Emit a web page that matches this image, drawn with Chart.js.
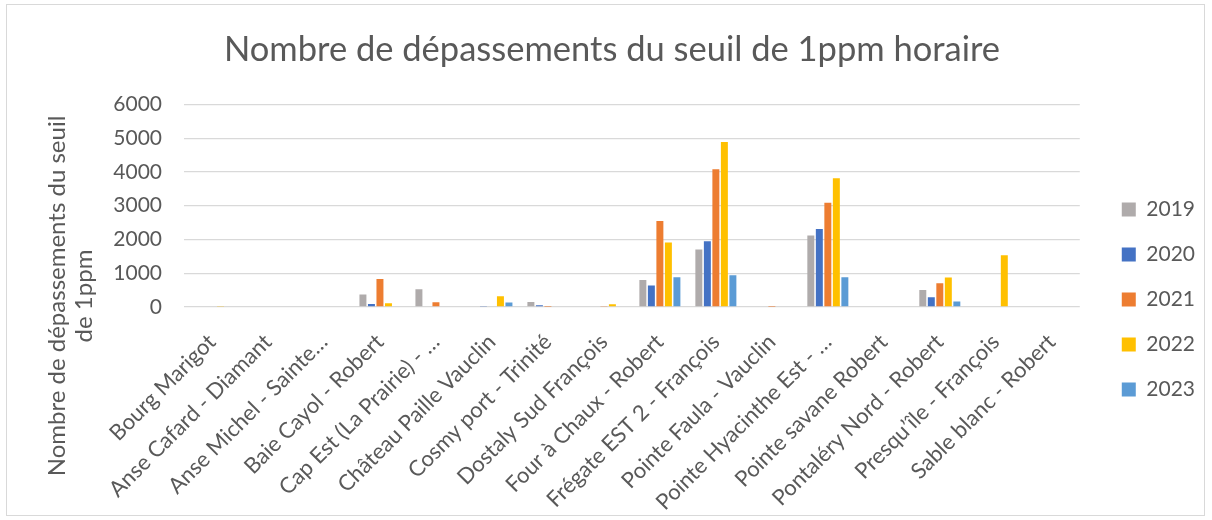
<!DOCTYPE html>
<html>
<head>
<meta charset="utf-8">
<script src="https://cdn.jsdelivr.net/npm/chart.js@4"></script>
<style>
  html, body { margin: 0; padding: 0; background: #fff; }
  #wrap { position: relative; width: 1212px; height: 520px; }
  #cadre { position: absolute; left: 6px; top: 4px; width: 1197px; height: 510px;
           border: 1px solid #d9d9d9; pointer-events: none; }
</style>
</head>
<body>
<div id="wrap">
  <canvas id="graphe" width="1212" height="520"></canvas>
  <div id="cadre"></div>
</div>
<script>
// ---------- Données ----------
var STATIONS = [
  "Bourg Marigot", "Anse Cafard - Diamant", "Anse Michel - Sainte…", "Baie Cayol - Robert",
  "Cap Est (La Prairie) - …", "Château Paille Vauclin", "Cosmy port - Trinité", "Dostaly Sud François",
  "Four à Chaux - Robert", "Frégate EST 2 - François", "Pointe Faula - Vauclin", "Pointe Hyacinthe Est - …",
  "Pointe savane Robert", "Pontaléry Nord - Robert", "Presqu’île - François", "Sable blanc - Robert"
];
var ANNEES = ["2019", "2020", "2021", "2022", "2023"];
var V2019 = [0, 0, 0, 370, 525, 0, 150, 0, 800, 1705, 0, 2120, 0, 500, 0, 0];
var V2020 = [0, 0, 0, 90, 0, 15, 50, 0, 640, 1950, 0, 2310, 0, 290, 0, 0];
var V2021 = [0, 0, 0, 830, 140, 0, 10, 15, 2550, 4080, 10, 3090, 0, 700, 0, 0];
var V2022 = [15, 0, 0, 110, 0, 320, 0, 80, 1910, 4890, 0, 3810, 0, 870, 1530, 0];
var V2023 = [0, 0, 0, 0, 0, 130, 0, 0, 880, 940, 0, 880, 0, 160, 0, 0];
var COULEURS = ["#afabab", "#4472c4", "#ed7d31", "#ffc000", "#5b9bd5"];
var TITRE = "Nombre de dépassements du seuil de 1ppm horaire";
var TITRE_Y = ["Nombre de dépassements du seuil", "de 1ppm"];

var GRIS = "#595959";
var POLICE = "Lato, 'Open Sans', sans-serif";

var series = [V2019, V2020, V2021, V2022, V2023];
var datasets = series.map(function (v, i) {
  return { label: ANNEES[i], data: v, backgroundColor: COULEURS[i], borderWidth: 0,
    categoryPercentage: 0.76, barPercentage: 0.82 };
});

// titre de l'axe Y dessiné à la main (centré comme dans Excel)
var titreAxeY = {
  id: "titreAxeY",
  afterDraw: function (chart) {
    var ctx = chart.ctx;
    ctx.save();
    ctx.fillStyle = GRIS;
    ctx.font = "24px " + POLICE;
    ctx.textAlign = "center";
    ctx.textBaseline = "alphabetic";
    var xs = [65, 92];
    for (var i = 0; i < TITRE_Y.length; i++) {
      ctx.save();
      ctx.translate(xs[i], 296);
      ctx.rotate(-Math.PI / 2);
      ctx.fillText(TITRE_Y[i], 0, 0);
      ctx.restore();
    }
    ctx.restore();
  }
};

new Chart(document.getElementById("graphe"), {
  type: "bar",
  data: { labels: STATIONS, datasets: datasets },
  plugins: [titreAxeY],
  options: {
    responsive: false,
    animation: false,
    layout: { padding: { top: 14, right: 7, bottom: 0, left: 19 } },
    scales: {
      x: {
        grid: { display: false },
        border: { display: false },
        ticks: { color: GRIS, font: { family: POLICE, size: 22 }, minRotation: 45, maxRotation: 45, autoSkip: false, padding: 14 },
        afterFit: function (s) { s.height = 213; }
      },
      y: {
        min: 0, max: 6000,
        ticks: { stepSize: 1000, color: GRIS, font: { family: POLICE, size: 21 }, padding: 22,
          callback: function (v) { return String(v); } },
        grid: { color: "#d9d9d9", lineWidth: 1.3, drawTicks: false },
        border: { display: false },
        afterFit: function (s) { s.width = 165; }
      },
      ecart: {
        type: "linear", position: "right", display: true,
        grid: { display: false }, border: { display: false }, ticks: { display: false },
        afterFit: function (s) { s.width = 18; }
      }
    },
    plugins: {
      title: { display: true, text: TITRE, color: GRIS, font: { family: POLICE, size: 34.5, weight: "normal" },
        padding: { top: 15, bottom: 34 } },
      legend: {
        position: "right",
        align: "start",
        title: { display: true, text: " ", font: { size: 10 }, padding: { top: 0, bottom: 149 } },
        labels: { color: GRIS, font: { family: POLICE, size: 21 }, boxWidth: 14, boxHeight: 14, padding: 24 }
      },
      tooltip: { enabled: false }
    }
  }
});
</script>
</body>
</html>
